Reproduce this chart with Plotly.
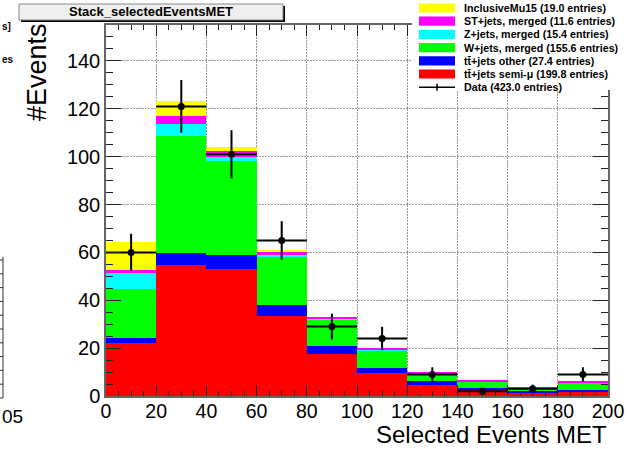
import numpy as np
import plotly.graph_objects as go

# ---- histogram content (20 GeV bins from 0 to 200) ----
bin_edges = [0, 20, 40, 60, 80, 100, 120, 140, 160, 180, 200]
bin_centers = [10, 30, 50, 70, 90, 110, 130, 150, 170, 190]

ttbar_semimu = [22.3, 54.9, 52.9, 33.4, 17.4, 9.5, 4.6, 2.5, 1.5, 1.6]
ttbar_other = [2.1, 4.9, 6.0, 4.5, 3.6, 2.3, 1.5, 0.9, 0.6, 1.0]
wjets = [20.3, 49.0, 39.2, 20.4, 11.1, 7.4, 3.0, 2.6, 1.1, 2.9]
zjets = [6.6, 4.9, 1.6, 0.6, 0.3, 0.4, 0.3, 0.1, 0.1, 0.2]
stjets = [1.3, 3.2, 2.8, 1.4, 0.6, 0.5, 0.6, 0.2, 0.1, 0.3]
inclmu15 = [11.9, 6.2, 1.4, 0.6, 0.0, 0.0, 0.0, 0.0, 0.0, 0.0]
data_counts = [60, 121, 101, 65, 29, 24, 9, 2, 3, 9]

# legend text, top to bottom
legend_names = ["InclusiveMu15", "ST+jets, merged", "Z+jets, merged",
                "W+jets, merged", "tt\u0304+jets other", "tt\u0304+jets semi-\u03bc",
                "Data"]
legend_entries = [19.0, 11.6, 15.4, 155.6, 27.4, 199.8, 423.0]
legend_colors = ["#ffff00", "#ff00ff", "#00ffff", "#00ff00", "#0000ff", "#ff0000", None]

title_text = "Stack_selectedEventsMET"
x_title = "Selected Events MET"
y_title = "#Events"

FONT = "Liberation Sans, Arial, sans-serif"
W, H = 631, 449
ML, MR, MT, MB = 106, 23, 25, 53
PW, PH = W - ML - MR, H - MT - MB


def px(x):
    return (x - ML) / PW


def py(y):
    return (H - MB - y) / PH


half_width = [(b - a) / 2 for a, b in zip(bin_edges[:-1], bin_edges[1:])]
bin_width = [b - a for a, b in zip(bin_edges[:-1], bin_edges[1:])]

fig = go.Figure()

# stacked MC, bottom to top
stack = [
    (ttbar_semimu, "#ff0000"),
    (ttbar_other, "#0000ff"),
    (wjets, "#00ff00"),
    (zjets, "#00ffff"),
    (stjets, "#ff00ff"),
    (inclmu15, "#ffff00"),
]
for vals, col in stack:
    fig.add_trace(go.Bar(
        x=bin_centers, y=vals, width=bin_width,
        marker=dict(color=col, line=dict(width=0)),
        hoverinfo="skip",
    ))

# data points with Poisson errors
fig.add_trace(go.Scatter(
    x=bin_centers, y=data_counts, mode="markers",
    marker=dict(color="black", size=7),
    error_x=dict(type="data", array=half_width, color="black", thickness=2, width=0),
    error_y=dict(type="data", array=list(np.sqrt(data_counts)), color="black",
                 thickness=2, width=0),
))

axis_common = dict(
    automargin=False,
    ticks="inside", tickcolor="#222", tickwidth=1,
    showline=True, linecolor="#666", linewidth=1.5, mirror="ticks",
    showgrid=True, gridcolor="#999", griddash="2px,1px", gridwidth=1,
    zeroline=False,
)

fig.update_layout(
    width=W, height=H,
    margin=dict(l=ML, r=MR, t=MT, b=MB),
    paper_bgcolor="white", plot_bgcolor="white",
    barmode="stack", bargap=0,
    showlegend=False,
    xaxis=dict(range=[0, 200], tickmode="linear", tick0=0, dtick=20, ticklen=11,
               tickfont=dict(family=FONT, size=19.5, color="black"),
               ticklabelstandoff=-3,
               minor=dict(dtick=5, ticks="inside", ticklen=5, tickcolor="#222",
                          showgrid=False),
               **axis_common),
    yaxis=dict(range=[0, 155], tickmode="linear", tick0=0, dtick=20, ticklen=15,
               tickfont=dict(family=FONT, size=20, color="black"),
               minor=dict(dtick=5, ticks="inside", ticklen=7, tickcolor="#222",
                          showgrid=False),
               **axis_common),
)

shapes = []
annotations = []

# axis titles
annotations.append(dict(
    xref="paper", yref="paper", x=1.0, y=py(449), xanchor="right", yanchor="bottom",
    borderpad=0,
    text=x_title, showarrow=False, font=dict(family=FONT, size=24, color="black"),
))
annotations.append(dict(
    xref="paper", yref="paper", x=px(37), y=py(21), xanchor="center", yanchor="top",
    text=y_title, textangle=-90, showarrow=False,
    font=dict(family=FONT, size=27, color="black"),
))

# title pave with shadow
shapes.append(dict(type="line", xref="paper", yref="paper", layer="above",
                   x0=px(284), x1=px(284), y0=py(6), y1=py(22),
                   line=dict(color="black", width=2)))
shapes.append(dict(type="line", xref="paper", yref="paper", layer="above",
                   x0=px(21), x1=px(285), y0=py(21), y1=py(21),
                   line=dict(color="black", width=2)))
shapes.append(dict(type="rect", xref="paper", yref="paper", layer="above",
                   x0=px(19), x1=px(283), y0=py(20), y1=py(4),
                   fillcolor="#efefef", line=dict(color="#888", width=1)))
annotations.append(dict(
    xref="paper", yref="paper", x=px(151), y=py(12), xanchor="center", yanchor="middle",
    text="<b>%s</b>" % title_text, showarrow=False,
    font=dict(family=FONT, size=13, color="black"),
))

# legend box
shapes.append(dict(type="rect", xref="paper", yref="paper", layer="above",
                   x0=px(412), x1=px(W + 2), y0=py(90), y1=py(-2),
                   fillcolor="white", line=dict(width=0)))
row0, row_step = 8.0, 13.2
for i, (name, n, col) in enumerate(zip(legend_names, legend_entries, legend_colors)):
    yc = row0 + i * row_step
    if col is not None:
        shapes.append(dict(type="rect", xref="paper", yref="paper", layer="above",
                           x0=px(419), x1=px(455), y0=py(yc + 4.6), y1=py(yc - 4.6),
                           fillcolor=col, line=dict(width=0)))
    else:
        shapes.append(dict(type="line", xref="paper", yref="paper", layer="above",
                           x0=px(419), x1=px(455), y0=py(yc), y1=py(yc),
                           line=dict(color="black", width=1.5)))
        shapes.append(dict(type="line", xref="paper", yref="paper", layer="above",
                           x0=px(437), x1=px(437), y0=py(yc - 3.5), y1=py(yc + 3.5),
                           line=dict(color="black", width=1.5)))
    annotations.append(dict(
        xref="paper", yref="paper", x=px(462), y=py(yc), xanchor="left", yanchor="middle",
        text="<b>%s (%.1f entries)</b>" % (name, n), showarrow=False,
        font=dict(family=FONT, size=10.7, color="black"),
    ))

# edge of the neighbouring pad on the left
shapes.append(dict(type="line", xref="paper", yref="paper", layer="above",
                   x0=px(3), x1=px(3), y0=py(257), y1=py(398),
                   line=dict(color="#333", width=1)))
for k in range(11):
    yk = 398 - k * 13.8
    shapes.append(dict(type="line", xref="paper", yref="paper", layer="above",
                       x0=px(0), x1=px(3), y0=py(yk), y1=py(yk),
                       line=dict(color="#333", width=1)))
for txt, yy, sz, bold in [("s]", 27, 10, True), ("es", 59, 10, True), ("05", 416, 19, False)]:
    annotations.append(dict(
        xref="paper", yref="paper", x=px(0), y=py(yy), xanchor="left", yanchor="middle",
        text=("<b>%s</b>" % txt) if bold else txt, showarrow=False,
        font=dict(family=FONT, size=sz, color="black"),
    ))

fig.update_layout(shapes=shapes, annotations=annotations)
fig.write_html("out.html")
